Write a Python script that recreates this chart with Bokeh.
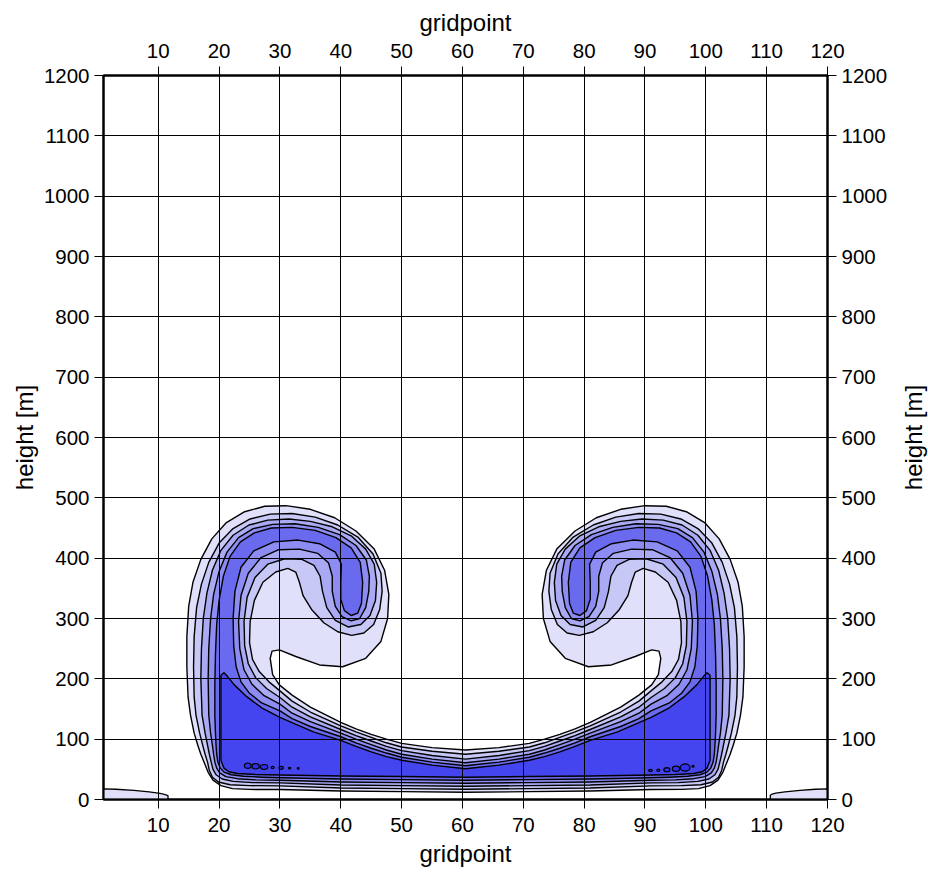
import math
from bokeh.plotting import figure
from bokeh.layouts import row
from bokeh.models import LinearAxis, FixedTicker, Range1d
from bokeh.core.properties import value
from bokeh.embed import file_html
from bokeh.resources import INLINE

# ---------------- data (left half of each contour level) ----------------
# each path runs from the centre (x = 60.5) along the upper edge of the ground band,
# around the vortex head and back along the lower edge to the centre; the right half is its mirror.
MIRROR_X = 121.0

l1_x = [60.5, 55, 50, 47.5, 45, 42.5, 40, 35, 32, 29.9, 28.8, 28.4, 28.7, 29.9, 32.6, 36.5, 40.3, 44.1, 46.6, 47.7, 47.9, 47.2, 45.5, 42.5, 39, 35, 31, 27.5, 24.2, 21.2, 18.8, 17, 15.7, 15, 14.7, 14.7, 14.9, 15.3, 15.9, 16.5, 17.0, 17.6, 18.2, 19.0, 20.3, 22.2, 25, 30, 40, 50, 60.5]
l1_y = [82, 86, 93, 100, 108, 117, 128, 153, 173, 190, 207, 234, 246, 248, 237, 223, 220, 234, 262, 300, 340, 380, 415, 445, 467, 481, 487, 486, 477, 459, 432, 398, 360, 320, 270, 220, 170, 140, 110, 90, 75, 60, 45, 32, 23, 18, 16.7, 16.5, 14, 13, 12]

l2_x = [60.5, 55, 50, 47.5, 45, 42.5, 40, 35, 32, 30, 28.2, 26.6, 25.5, 25.0, 25.1, 25.8, 27.2, 29.3, 31.3, 32.6, 33.2, 33.8, 35.2, 37.2, 39.5, 41.8, 43.8, 45.4, 46.4, 46.8, 46.6, 45.3, 42.8, 39.5, 35.8, 32, 28.4, 25.1, 22.3, 20, 18.3, 17.1, 16.3, 15.9, 15.8, 15.9, 16.2, 16.8, 17.3, 17.7, 18.1, 18.4, 18.9, 19.9, 21.8, 25, 30, 40, 50, 60.5]
l2_y = [75, 80, 87, 94, 103, 112, 122, 145, 163, 180, 195, 212, 232, 260, 295, 330, 360, 377, 383, 377, 360, 338, 315, 293, 278, 272, 276, 290, 315, 345, 375, 407, 435, 455, 468, 474, 473, 465, 449, 425, 393, 357, 318, 270, 220, 170, 140, 110, 90, 75, 62, 48, 37, 29, 24.5, 23, 22.5, 19, 18, 17]

l3_x = [60.5, 55, 50, 47.5, 45, 42.5, 40, 35, 32, 30, 27.8, 26, 24.8, 24.2, 24.1, 24.6, 25.9, 28, 30.8, 33.6, 35.6, 36.6, 37, 37.7, 39.1, 41.2, 43.3, 44.8, 45.7, 45.9, 45.5, 44.1, 41.7, 38.6, 35, 31.5, 28, 24.9, 22.3, 20.3, 18.9, 18, 17.4, 17.1, 17, 17.2, 17.7, 18.1, 18.4, 18.7, 19.0, 19.5, 20.5, 22.3, 25.5, 30, 40, 50, 60.5]
l3_y = [67, 73, 81, 88, 97, 106, 116, 137, 153, 169, 184, 202, 225, 255, 295, 335, 368, 390, 399, 398, 388, 370, 345, 318, 297, 286, 290, 305, 330, 360, 390, 415, 437, 452, 461, 465, 463, 455, 438, 413, 380, 342, 300, 250, 200, 140, 110, 90, 75, 62, 50, 41, 34, 30, 28, 27.5, 24, 23, 22]

l4_x = [60.5, 55, 50, 47.5, 45, 42.5, 40, 35, 32, 30, 27.4, 25.4, 24.1, 23.4, 23.2, 23.6, 24.8, 26.9, 29.8, 33.2, 36.2, 38, 38.6, 38.6, 39.1, 40.2, 41.7, 43.1, 44.1, 44.6, 44.7, 44.2, 42.5, 39.8, 36.3, 32.5, 28.8, 25.6, 23.2, 21.3, 20, 19.1, 18.6, 18.3, 18.2, 18.3, 18.6, 18.9, 19.1, 19.3, 19.6, 20.1, 21.1, 23, 26, 30, 40, 50, 60.5]
l4_y = [61, 67, 75, 82, 91, 100, 110, 129, 143, 158, 172, 191, 215, 250, 295, 338, 375, 401, 414, 415, 408, 392, 370, 345, 320, 303, 296, 300, 318, 345, 370, 397, 421, 439, 451, 457, 456, 449, 434, 410, 378, 340, 300, 250, 200, 140, 110, 90, 75, 62, 52, 44, 38, 34.5, 32.5, 32, 29, 28, 27]

l5_x = [60.5, 55, 50, 47.5, 45, 42.5, 40, 35, 32, 30, 27, 25, 23.6, 22.8, 22.4, 22.3, 22.6, 23.6, 25.7, 29, 33, 36.5, 39.1, 40.1, 40, 40, 40.6, 41.7, 42.8, 43.4, 43.6, 43.2, 41.7, 39.2, 35.8, 32, 28.6, 25.8, 23.5, 21.8, 20.7, 20, 19.6, 19.4, 19.3, 19.3, 19.4, 19.5, 19.6, 19.8, 20.2, 20.8, 22, 24, 27, 30, 40, 50, 60.5]
l5_y = [56, 62, 70, 77, 85, 94, 104, 121, 134, 147, 160, 176, 195, 220, 255, 300, 345, 385, 412, 427, 430, 424, 410, 390, 360, 332, 313, 305, 309, 325, 360, 393, 417, 434, 446, 451, 450, 442, 427, 403, 370, 330, 290, 240, 190, 140, 110, 90, 75, 62, 52, 45.5, 41, 38.5, 37, 36, 34, 33, 32]

l6_x = [60.5, 55, 50, 47.5, 45, 42.5, 40, 35.5, 30, 27, 24.6, 22.5, 21.3, 20.8, 20.3, 20.3, 20.3, 20.8, 21.6, 23, 26, 30, 40, 50, 60.5]
l6_y = [51, 57, 65, 71, 79, 88, 98, 112, 136, 152, 170, 190, 205, 210, 206, 150, 65, 52, 46, 43, 41.5, 40.5, 39, 38, 37]

# small closed maxima inside the core
dots_left_x = [24.7, 26.0, 27.4, 28.8, 30.2, 31.6, 33.0]
dots_left_y = [56, 55, 54, 53, 52.5, 52, 51.5]
dots_left_w = [1.1, 1.2, 1.2, 0.5, 0.7, 0.35, 0.3]
dots_left_h = [9, 9, 8, 4, 5, 3, 2.5]
dots_right_x = [90.9, 92.2, 93.6, 95.1, 96.6, 97.9]
dots_right_y = [48, 48.5, 49.5, 51, 53, 55]
dots_right_w = [0.6, 0.5, 1.0, 1.2, 1.6, 0.35]
dots_right_h = [4, 4, 7, 9, 12, 3]

# weak patches in the lower corners
corner_left_x = [1.0, 1.0, 3, 6, 8.5, 10.3, 11.0, 11.6, 11.6]
corner_left_y = [0, 17.5, 17, 15, 12.5, 10, 8.5, 6.5, 0]
corner_right_x = [120, 120, 118, 115.5, 113, 111.5, 110.9, 110.6, 110.6]
corner_right_y = [0, 17.5, 17, 15, 12.5, 10.5, 9, 7, 0]

x_ticks = [10, 20, 30, 40, 50, 60, 70, 80, 90, 100, 110, 120]
y_ticks = [0, 100, 200, 300, 400, 500, 600, 700, 800, 900, 1000, 1100, 1200]
y_title = "height [m]"
x_title = "gridpoint"

level_colors = ["#e0e0fa", "#c8c8f7", "#aaaaf4", "#8c8cf2", "#6a6aef", "#4545ef"]


def full_polygon(xs, ys):
    mx = [MIRROR_X - x for x in reversed(xs)]
    my = list(reversed(ys))
    return list(xs) + mx[1:-1], list(ys) + my[1:-1]


FONT = "Liberation Sans"
TITLE_STRIP = 30  # width of the strip that carries the right-hand axis title

p = figure(width=928 - TITLE_STRIP, height=874, x_range=Range1d(1, 120), y_range=Range1d(0, 1200),
           output_backend="svg", toolbar_location=None,
           min_border_left=103, min_border_right=928 - TITLE_STRIP - 827,
           min_border_top=75, min_border_bottom=75)
p.background_fill_color = "white"
p.border_fill_color = "white"

# corner patches
p.patches([corner_left_x, corner_right_x], [corner_left_y, corner_right_y],
          fill_color=level_colors[0], line_color="black", line_width=1.3)

levels = [(l1_x, l1_y), (l2_x, l2_y), (l3_x, l3_y), (l4_x, l4_y), (l5_x, l5_y), (l6_x, l6_y)]
for (lx, ly), col in zip(levels, level_colors):
    fx, fy = full_polygon(lx, ly)
    p.patch(fx, fy, fill_color=col, line_color="black", line_width=1.4, line_join="round")

p.ellipse(dots_left_x, dots_left_y, width=dots_left_w, height=dots_left_h,
          fill_color="#3030ee", line_color="black", line_width=1.2)
p.ellipse(dots_right_x, dots_right_y, width=dots_right_w, height=dots_right_h,
          fill_color="#3030ee", line_color="black", line_width=1.2)

# grid drawn above the shading
for g, t in ((p.xgrid, x_ticks), (p.ygrid, y_ticks)):
    g.ticker = FixedTicker(ticks=t)
    g.grid_line_color = "black"
    g.grid_line_alpha = 1.0
    g.grid_line_width = 1
    g.level = "overlay"

p.add_layout(LinearAxis(), "above")
p.add_layout(LinearAxis(), "right")

for ax in p.xaxis:
    ax.ticker = FixedTicker(ticks=x_ticks)
    ax.axis_label = x_title
    ax.major_label_standoff = 9
    ax.axis_label_standoff = 5
for ax in p.yaxis:
    ax.ticker = FixedTicker(ticks=y_ticks)
    ax.major_label_standoff = 5
p.yaxis[0].axis_label = y_title
p.yaxis[0].axis_label_standoff = 3
for ax in p.xaxis + p.yaxis:
    ax.major_tick_out = 9
    ax.major_tick_in = 0
    ax.minor_tick_out = 0
    ax.minor_tick_in = 0
    ax.major_tick_line_color = "black"
    ax.axis_line_color = "black"
    ax.axis_line_width = 2
    ax.major_label_text_font = FONT
    ax.major_label_text_font_size = "20.5px"
    ax.major_label_text_color = "black"
    ax.axis_label_text_font = FONT
    ax.axis_label_text_font_size = "24px"
    ax.axis_label_text_font_style = "normal"
    ax.axis_label_text_color = "black"

p.outline_line_color = "black"
p.outline_line_width = 2

# narrow strip to the right carrying the right-hand axis title (reads bottom-to-top)
s = figure(width=TITLE_STRIP, height=874, x_range=Range1d(0, TITLE_STRIP), y_range=Range1d(0, 874),
           output_backend="svg", toolbar_location=None, x_axis_type=None, y_axis_type=None,
           min_border=0)
s.grid.visible = False
s.outline_line_color = None
s.background_fill_color = "white"
s.border_fill_color = "white"
s.text(x=[TITLE_STRIP / 2], y=[874 / 2], text=[y_title], angle=math.pi / 2,
       text_font=value(FONT), text_font_size="24px", text_color="black",
       text_align="center", text_baseline="middle")

layout = row(p, s, spacing=0)

open("out.html", "w").write(file_html(layout, INLINE))
